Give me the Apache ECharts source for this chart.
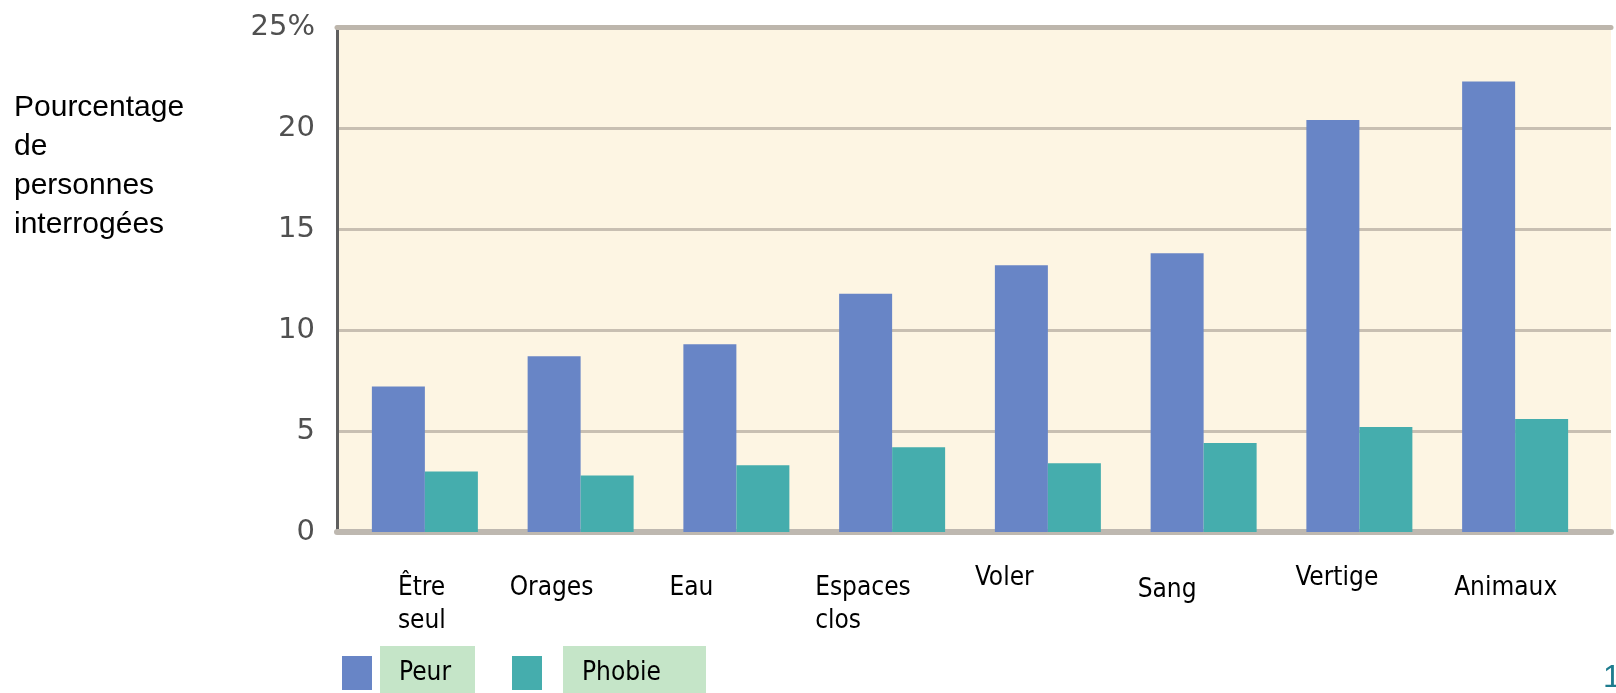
<!DOCTYPE html>
<html>
<head>
<meta charset="utf-8">
<script src="https://cdn.jsdelivr.net/npm/echarts@6/dist/echarts.min.js"></script>
<style>
  html, body { margin: 0; padding: 0; background: #ffffff; }
  #chart { width: 1616px; height: 693px; }
</style>
</head>
<body>
<div id="chart"></div>
<script>
// ---- Data ----
const categories = ['Être\nseul', 'Orages', 'Eau', 'Espaces\nclos', 'Voler', 'Sang', 'Vertige', 'Animaux'];
const peur = [7.2, 8.7, 9.3, 11.8, 13.2, 13.8, 20.4, 22.3];
const phobie = [3.0, 2.8, 3.3, 4.2, 3.4, 4.4, 5.2, 5.6];
const seriesNames = ['Peur', 'Phobie'];
const yMin = 0, yMax = 25, yStep = 5;
const axisTitle = 'Pourcentage\nde\npersonnes\ninterrogées';

// ---- Layout / style ----
const condensed = "'DejaVu Sans Condensed', 'Liberation Sans Narrow', sans-serif";
const labelShiftX = [60, 16, 20, 10, 14, 21, 23, 26];
const labelShiftY = [10, 10, 10, 10, 0, 12, 0, 10];

const chart = echarts.init(document.getElementById('chart'), null, { renderer: 'canvas' });

const labelAxisData = categories.map((c, i) => ({
  value: c,
  textStyle: {
    align: 'left', verticalAlign: 'top',
    fontFamily: condensed, fontSize: 26, lineHeight: 33, color: '#000',
    padding: [labelShiftY[i], 0, 0, labelShiftX[i]]
  }
}));

const hiddenValueAxis = (gi) => ({
  type: 'value', gridIndex: gi, min: yMin, max: yMax, interval: yStep,
  axisLine: { show: false }, axisTick: { show: false }, axisLabel: { show: false }, splitLine: { show: false }
});

function legendFor(name, left, spacer, padR) {
  return {
    data: [name], left: left, top: 641, orient: 'horizontal',
    icon: 'rect', itemWidth: 30, itemHeight: 34,
    selectedMode: false,
    formatter: (n) => '{s| }{b|' + n + '}',
    textStyle: {
      rich: {
        s: { width: spacer, fontSize: 10 },
        b: {
          fontFamily: condensed, fontSize: 26, color: '#000', lineHeight: 33,
          backgroundColor: '#C5E5C8', padding: [14, padR, 14, 19]
        }
      }
    }
  };
}

const option = {
  animation: false,
  backgroundColor: '#ffffff',
  title: {
    text: axisTitle, left: 9, top: 83,
    textStyle: { fontFamily: "'Liberation Sans', Arial, sans-serif", fontSize: 30, fontWeight: 'normal', color: '#000', lineHeight: 39 }
  },
  legend: [legendFor(seriesNames[0], 337, 3, 24), legendFor(seriesNames[1], 507, 16, 45)],
  grid: [
    { left: 337, right: 5, top: 27, bottom: 161, show: true, backgroundColor: '#FDF5E3', borderWidth: 0 },
    { left: 347, right: 23, top: 27, bottom: 161 },
    { left: 260, right: 110, top: 27, bottom: 161 }
  ],
  xAxis: [
    { type: 'category', gridIndex: 0, data: categories, axisLine: { lineStyle: { color: '#BEB8B0', width: 6 } },
      axisTick: { show: false }, axisLabel: { show: false }, splitLine: { show: false } },
    { type: 'category', gridIndex: 0, position: 'top', data: categories, axisLine: { lineStyle: { color: '#BDB6AC', width: 5 } },
      axisTick: { show: false }, axisLabel: { show: false }, splitLine: { show: false } },
    { type: 'category', gridIndex: 1, data: categories, axisLine: { show: false }, axisTick: { show: false },
      axisLabel: { show: false }, splitLine: { show: false } },
    { type: 'category', gridIndex: 2, data: labelAxisData, axisLine: { show: false }, axisTick: { show: false },
      splitLine: { show: false },
      axisLabel: { show: true, interval: 0, align: 'left', verticalAlign: 'top', margin: 30,
        fontFamily: condensed, fontSize: 26, lineHeight: 33, color: '#000' } }
  ],
  yAxis: [
    { type: 'value', gridIndex: 0, min: yMin, max: yMax, interval: yStep,
      axisLine: { show: true, lineStyle: { color: '#5f5f5f', width: 3 } },
      axisTick: { show: false },
      axisLabel: { margin: 22, fontFamily: "'DejaVu Sans', sans-serif", fontSize: 29, color: '#505050',
        formatter: (v) => v === yMax ? v + '%' : String(v) },
      splitLine: { show: true, lineStyle: { color: '#C8BFB2', width: 3 } } },
    hiddenValueAxis(1),
    hiddenValueAxis(2)
  ],
  series: [
    { name: seriesNames[0], type: 'bar', xAxisIndex: 2, yAxisIndex: 1, data: peur,
      barWidth: 53, barGap: '0%', itemStyle: { color: '#6885C6' } },
    { name: seriesNames[1], type: 'bar', xAxisIndex: 2, yAxisIndex: 1, data: phobie,
      barWidth: 53, barGap: '0%', itemStyle: { color: '#45ADAD' } }
  ],
  graphic: [
    { type: 'text', left: 1603, top: 662, silent: true,
      style: { text: '1', fontFamily: "'Liberation Sans', sans-serif", fontSize: 32, fill: '#1E7C8E' } }
  ]
};

chart.setOption(option);
</script>
</body>
</html>
